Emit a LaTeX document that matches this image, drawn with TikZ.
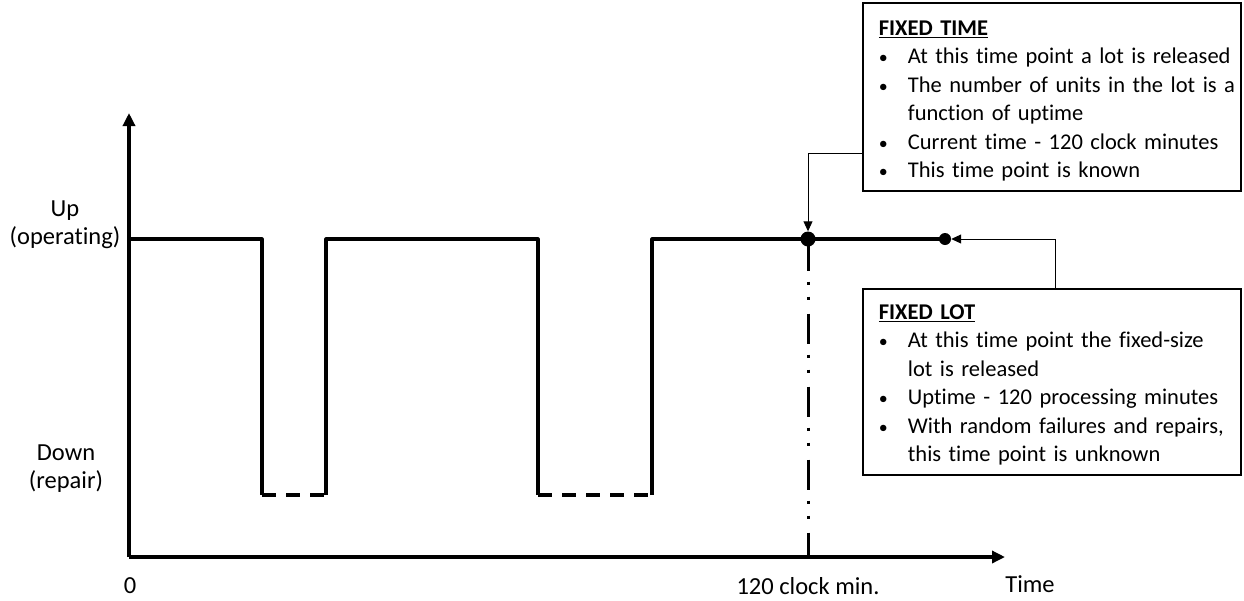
\documentclass[tikz,border=0pt]{standalone}
\usepackage{fontspec}
\setmainfont{Carlito}[Ligatures={NoCommon,NoContextual}]
\usetikzlibrary{arrows.meta}
\begin{document}
\begin{tikzpicture}[x=1pt,y=-1pt,
  axis/.style={line width=3.6pt,-{Triangle[length=13pt,width=12pt]}},
  wave/.style={line width=3.2pt,line join=round},
  downdash/.style={line width=3.2pt,dash pattern=on 14pt off 10pt},
  conn/.style={line width=0.9pt,-{Triangle[length=10pt,width=9pt]}},
  infobox/.style={draw,line width=1.8pt,anchor=north west,text width=346pt,
    inner xsep=16pt,inner ysep=9.5pt,align=left,font=\fontsize{22.5}{28.5}\selectfont},
  lbl/.style={font=\fontsize{24.5}{28}\selectfont,align=center,inner sep=0pt},
  dot/.style={circle,fill,inner sep=0pt}]
\useasboundingbox (0,0) rectangle (1244,600);
\newcommand{\bul}[1]{\mbox{\makebox[29pt][l]{\scalebox{0.8}{•}}#1}}
\newcommand{\cont}[1]{\mbox{\hspace*{29pt}#1}}

% axes
\coordinate (o) at (129,557);
\coordinate (ytop) at (129,113);
\coordinate (xend) at (1005,557);
\draw[axis] (o) -- (ytop);
\draw[axis] (o) -- (xend);

% waveform
\draw[wave] (130,239) -- (262,239) -- (262,495);
\draw[wave] (326,495) -- (326,239) -- (538,239) -- (538,495);
\draw[wave] (652,495) -- (652,239) -- (945,239);
\draw[downdash] (262,495) -- (326,495);
\draw[downdash] (538,495) -- (652,495);

% time points
\node[dot,minimum size=15pt] (ft) at (808,239) {};
\node[dot,minimum size=12pt] (fl) at (945,239) {};
\coordinate (xtick) at (808,557);
\draw[line width=3pt,dash pattern=on 30pt off 11pt on 3pt off 12pt on 3pt off 14pt]
  ([yshift=6pt]ft.south) -- (xtick);

% labels
\node[lbl] (up) at (65,225) {Up\\(operating)};
\node[lbl] (down) at (66,469) {Down\\(repair)};
\node[lbl] (zero) at (130,586) {0};
\node[lbl] (clk) at (808,586) {120 clock min.};
\node[lbl] (time) at (1030,584) {Time};

% boxes
\node[infobox] (box1) at (862,2) {\rule{0pt}{23pt}\underline{\textbf{FIXED TIME}}\\
\bul{At this time point a lot is released}\\
\bul{The number of units in the lot is a}\\
\cont{function of uptime}\\
\bul{Current time - 120 clock minutes}\\
\bul{This time point is known}};
\node[infobox] (box2) at (862,288) {\rule{0pt}{21pt}\underline{\textbf{FIXED LOT}}\\
\bul{At this time point the fixed-size}\\
\cont{lot is released}\\
\bul{Uptime - 120 processing minutes}\\
\bul{With random failures and repairs,}\\
\cont{this time point is unknown}};

% connectors
\draw[conn] (box1.west |- 0,153) -| (ft.north);
\draw[conn] (box2.north -| 1055,0) |- (fl.east);
\end{tikzpicture}
\end{document}
